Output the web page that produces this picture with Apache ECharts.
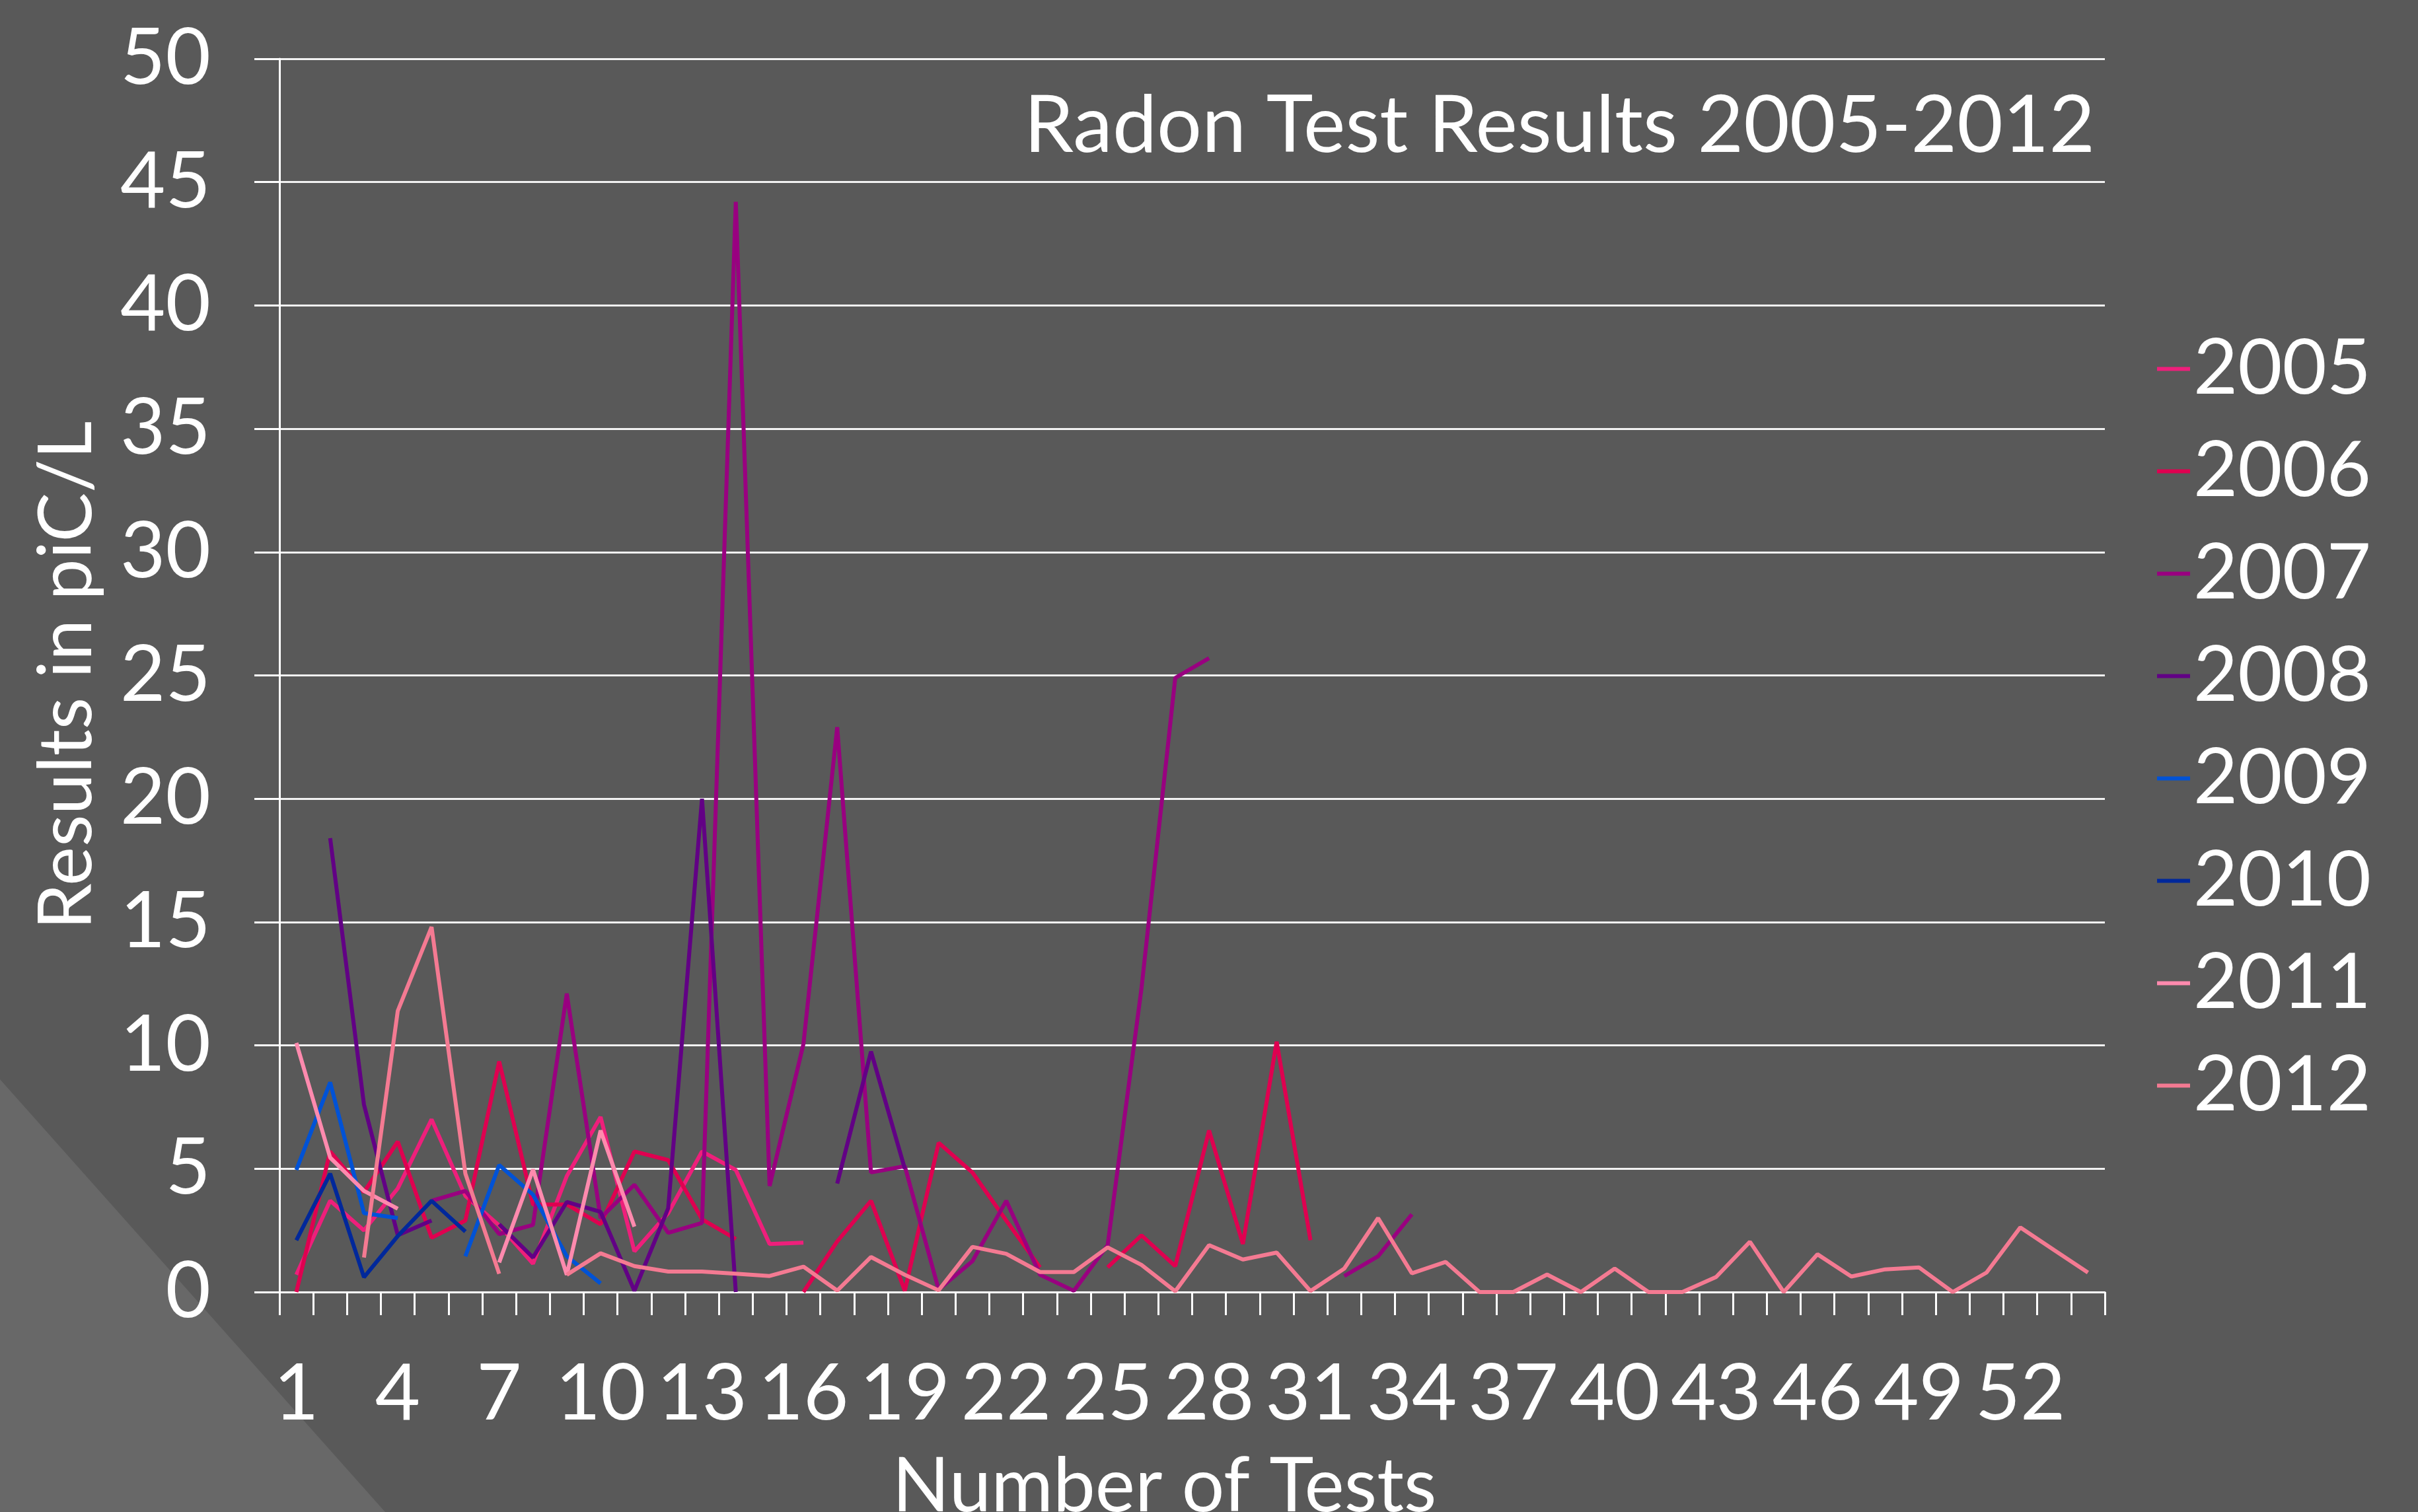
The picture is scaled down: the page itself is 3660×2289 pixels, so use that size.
<!DOCTYPE html>
<html lang="en">
  <head>
    <meta charset="UTF-8" />
    <title>Radon Test Results 2005-2012</title>
    <script src="https://cdn.jsdelivr.net/npm/echarts@6/dist/echarts.min.js"></script>
    <style>
      html, body { margin: 0; padding: 0; background: #595959; }
      #chart { width: 3660px; height: 2289px; }
    </style>
  </head>
  <body>
    <div id="chart"></div>
    <script>
      // test number on the x axis
      const tests = ['1','2','3','4','5','6','7','8','9','10','11','12','13','14','15','16','17','18',
        '19','20','21','22','23','24','25','26','27','28','29','30','31','32','33','34','35','36',
        '37','38','39','40','41','42','43','44','45','46','47','48','49','50','51','52','53','54']

      // results in piC/L, null = no test
      const y2005 = [0.7, 3.7, 2.5, 4.2, 7.0, 3.9, 2.7, 1.15, 4.7, 7.1, 1.65, 3.2, 5.7, 4.95, 1.95, 2.0]
      const y2006 = [0, 5.7, 4.05, 6.1, 2.2, 2.9, 9.35, 3.55, 3.55, 2.75, 5.7, 5.35, 2.95, 2.15, null,
        0, 2.05, 3.7, 0.05, 6.05, 4.85, 2.9, 1.0, null, 1.0, 2.3, 1.05, 6.55, 1.95, 10.15, 2.1]
      const y2007 = [null, null, null, null, 3.7, 4.1, 2.35, 2.72, 12.1, 3.0, 4.35, 2.4, 2.8, 44.2, 4.3,
        10.05, 22.9, 4.85, 5.1, 0.1, 1.25, 3.7, 0.7, 0.05, 1.9, 12.3, 24.9, 25.7, null, null, null,
        0.65, 1.45, 3.15]
      const y2008 = [null, 18.4, 7.6, 2.3, 2.9, null, 2.75, 1.4, 3.65, 3.25, 0.05, 3.4, 20.0, 0, null,
        null, 4.4, 9.75, 5.0]
      const y2009 = [4.95, 8.5, 3.2, 3.0, null, 1.45, 5.15, 3.95, 1.45, 0.35]
      const y2010 = [2.1, 4.8, 0.6, 2.27, 3.7, 2.45]
      const y2011 = [10.1, 5.45, 4.1, 3.38, null, null, 1.2, 4.97, 0.7, 6.55, 2.65]
      const y2012 = [null, null, 1.4, 11.4, 14.8, 4.8, 0.74, null, 0.7, 1.57, 1.05, 0.83, 0.83, 0.74,
        0.65, 1.03, 0.06, 1.42, 0.7, 0.07, 1.83, 1.55, 0.81, 0.81, 1.81, 1.1, 0.03, 1.9, 1.32, 1.6,
        0.04, 0.95, 3.0, 0.76, 1.22, 0, 0, 0.71, 0, 0.95, 0, 0, 0.61, 2.04, 0, 1.53, 0.63, 0.92,
        1.0, 0, 0.79, 2.62, 1.7, 0.79]

      const years = ['2005', '2006', '2007', '2008', '2009', '2010', '2011', '2012']
      const values = [y2005, y2006, y2007, y2008, y2009, y2010, y2011, y2012]
      const colors = ['#EE1F7B', '#DF0050', '#990080', '#620085', '#0052D6', '#00289B', '#FF8AAE', '#F47A92']

      const font = 'Lato, "Open Sans", sans-serif'
      const chart = echarts.init(document.getElementById('chart'))

      chart.setOption({
        backgroundColor: '#595959',
        animation: false,
        graphic: [
          {
            type: 'polygon',
            z: -10,
            shape: { points: [[0, 1634], [583, 2289], [0, 2289]] },
            style: { fill: '#686868' }
          }
        ],
        title: {
          text: 'Radon Test Results 2005-2012',
          right: 484,
          top: 126,
          textStyle: { color: '#fff', fontFamily: font, fontWeight: 'normal', fontSize: 120 }
        },
        legend: {
          orient: 'vertical',
          left: 3260,
          top: 494,
          itemGap: 36,
          itemWidth: 50,
          itemHeight: 6,
          icon: 'rect',
          data: years,
          textStyle: { color: '#fff', fontFamily: font, fontSize: 116, lineHeight: 119 }
        },
        grid: { left: 423, top: 89, right: 474, bottom: 333, outerBoundsMode: 'none' },
        xAxis: {
          type: 'category',
          data: tests,
          boundaryGap: true,
          name: 'Number of Tests',
          nameLocation: 'middle',
          nameGap: 238,
          nameTextStyle: { color: '#fff', fontFamily: font, fontSize: 114, padding: [0, 84, 0, 0] },
          axisLine: { lineStyle: { color: '#fff', width: 3 } },
          axisTick: { show: true, interval: 0, length: 35, lineStyle: { color: '#fff', width: 3 } },
          axisLabel: { interval: 2, color: '#fff', fontFamily: font, fontSize: 118, margin: 96 },
          splitLine: { show: false }
        },
        yAxis: {
          type: 'value',
          min: 0,
          max: 50,
          interval: 5,
          name: 'Results in piC/L',
          nameLocation: 'middle',
          nameGap: 265,
          nameTextStyle: { color: '#fff', fontFamily: font, fontSize: 112 },
          axisLine: { show: true, lineStyle: { color: '#fff', width: 3 } },
          axisTick: { show: true, length: 38, lineStyle: { color: '#fff', width: 3 } },
          axisLabel: { color: '#fff', fontFamily: font, fontSize: 118, margin: 104 },
          splitLine: { lineStyle: { color: '#f2f2f2', width: 3 } }
        },
        series: years.map((y, i) => ({
          name: y,
          type: 'line',
          data: values[i],
          symbol: 'none',
          color: colors[i],
          lineStyle: { width: 6, color: colors[i] }
        }))
      })
    </script>
  </body>
</html>
